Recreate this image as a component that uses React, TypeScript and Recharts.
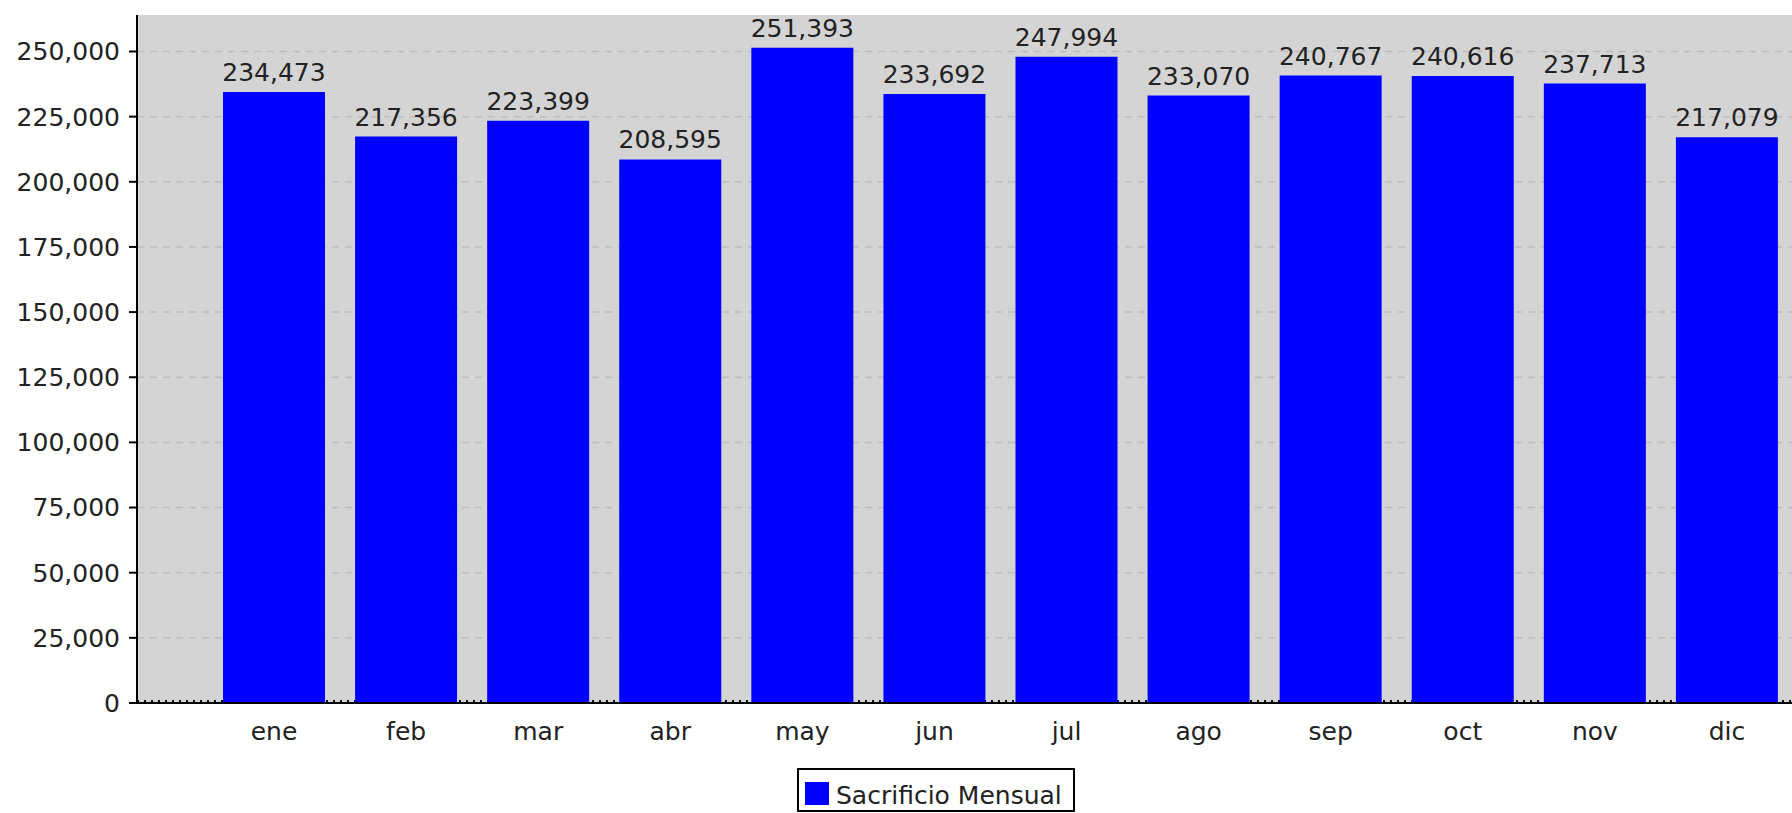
import React from "react";
import {
  BarChart,
  Bar,
  XAxis,
  YAxis,
  CartesianGrid,
  LabelList,
} from "recharts";

const MONTHS = ["ene", "feb", "mar", "abr", "may", "jun", "jul", "ago", "sep", "oct", "nov", "dic"];
const SACRIFICIO = [
  234473, 217356, 223399, 208595, 251393, 233692, 247994, 233070, 240767, 240616, 237713, 217079,
];
const Y_TICKS = [0, 25000, 50000, 75000, 100000, 125000, 150000, 175000, 200000, 225000, 250000];
const SERIES_NAME = "Sacrificio Mensual";

const FONT = "'DejaVu Sans', Verdana, sans-serif";
const BAR_COLOR = "#0000ff";

const fmt = (v: any) => Number(v).toLocaleString("en-US");

// grid line renderer: dashed gray, zero line dotted black, no line at the plot top
const gridLine = (props: any) => {
  const { x1, x2, y1, y2, index } = props;
  if (y1 < 25) return <g key={`h-${index}`} />;
  if (y1 > 690) {
    return (
      <line
        key={`h-${index}`}
        x1={x1}
        x2={x2}
        y1={y1 - 2}
        y2={y2 - 2}
        stroke="#111"
        strokeWidth={2}
        strokeDasharray="2 5"
      />
    );
  }
  return (
    <line
      key={`h-${index}`}
      x1={x1}
      x2={x2}
      y1={y1}
      y2={y2}
      stroke="#bdbdbd"
      strokeWidth={1.5}
      strokeDasharray="7 6"
    />
  );
};

const App: React.FC = () => {
  const data = MONTHS.map((m, i) => ({ name: m, value: SACRIFICIO[i] }));

  return (
    <div
      style={{
        position: "absolute",
        left: 0,
        top: 0,
        width: 1792,
        height: 813,
        overflow: "hidden",
        background: "#fff",
        fontFamily: FONT,
      }}
    >
      <BarChart
        width={1793}
        height={813}
        data={data}
        margin={{ top: 15, right: 0, bottom: 80, left: 0 }}
      >
        <CartesianGrid
          vertical={false}
          fill="#d4d4d4"
          fillOpacity={1}
          horizontal={gridLine}
        />
        <XAxis
          dataKey="name"
          padding={{ left: 71, right: 0 }}
          axisLine={{ stroke: "#000", strokeWidth: 2 }}
          tickLine={false}
          tickSize={6}
          tickMargin={13}
          height={30}
          interval={0}
          tick={{ fill: "#222", fontSize: 25, fontFamily: FONT }}
        />
        <YAxis
          width={137}
          domain={[0, 264000]}
          ticks={Y_TICKS}
          tickFormatter={fmt}
          axisLine={{ stroke: "#000", strokeWidth: 2 }}
          tickLine={{ stroke: "#000", strokeWidth: 2 }}
          tickSize={8}
          tickMargin={9}
          tick={{ fill: "#222", fontSize: 25, fontFamily: FONT }}
        />
        <Bar
          dataKey="value"
          name={SERIES_NAME}
          fill={BAR_COLOR}
          barSize={102}
          isAnimationActive={false}
        >
          <LabelList
            dataKey="value"
            position="top"
            offset={11}
            formatter={fmt}
            style={{ fill: "#222", fontSize: 25, fontFamily: FONT }}
          />
        </Bar>
      </BarChart>
      <div
        style={{
          position: "absolute",
          left: 797,
          top: 768,
          width: 278,
          height: 44,
          boxSizing: "border-box",
          border: "2px solid #000",
          background: "#fff",
        }}
      >
        <div
          style={{
            position: "absolute",
            left: 6,
            top: 12,
            width: 24,
            height: 23,
            background: BAR_COLOR,
          }}
        ></div>
        <span
          style={{
            position: "absolute",
            left: 37,
            top: 13,
            fontSize: 25,
            lineHeight: "25px",
            color: "#222",
            whiteSpace: "nowrap",
          }}
        >
          {SERIES_NAME}
        </span>
      </div>
    </div>
  );
};

export default App;
